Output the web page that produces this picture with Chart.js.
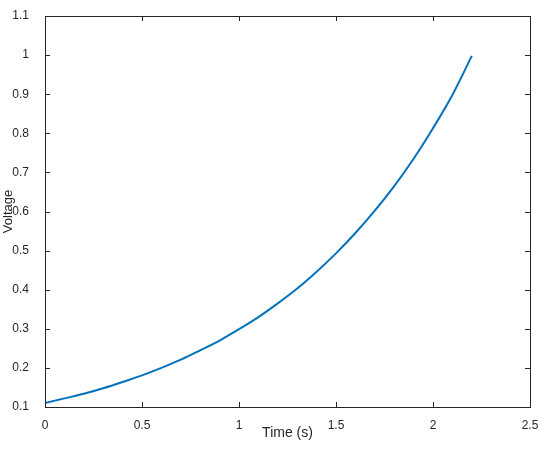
<!DOCTYPE html>
<html>
<head>
<meta charset="utf-8">
<script src="https://cdn.jsdelivr.net/npm/chart.js@4"></script>
<style>
  html, body { margin: 0; padding: 0; background: #fff; }
  #wrap { width: 549px; height: 449px; }
</style>
</head>
<body>
<div id="wrap"><canvas id="chart"></canvas></div>
<script>
// values
const timeS = [0, 0.1, 0.2, 0.3, 0.4, 0.5, 0.6, 0.7, 0.8, 0.9, 1.0, 1.1,
  1.2, 1.3, 1.4, 1.5, 1.6, 1.7, 1.8, 1.9, 2.0, 2.1, 2.2];
const voltage = [0.110, 0.122, 0.134, 0.148, 0.164, 0.181, 0.200, 0.221, 0.245,
  0.270, 0.299, 0.330, 0.365, 0.403, 0.446, 0.493, 0.545, 0.602, 0.665, 0.735,
  0.813, 0.898, 0.998];
const xTicks = [0, 0.5, 1, 1.5, 2, 2.5];
const yTicks = [0.1, 0.2, 0.3, 0.4, 0.5, 0.6, 0.7, 0.8, 0.9, 1, 1.1];

const axisColor = '#262626';
const fontFamily = 'Liberation Sans, Arial, sans-serif';

// box around the plot + ticks pointing inward on all four sides
const boxTicks = {
  id: 'boxTicks',
  afterDraw(chart) {
    const { ctx, chartArea: a, scales } = chart;
    ctx.save();
    ctx.strokeStyle = axisColor;
    ctx.lineWidth = 1;
    ctx.strokeRect(a.left + 0.5, a.top + 0.5, a.right - a.left, a.bottom - a.top);
    ctx.beginPath();
    const len = 5;
    xTicks.forEach(v => {
      const x = Math.round(scales.x.getPixelForValue(v)) + 0.5;
      ctx.moveTo(x, a.bottom); ctx.lineTo(x, a.bottom - len);
      ctx.moveTo(x, a.top); ctx.lineTo(x, a.top + len);
    });
    yTicks.forEach(v => {
      const y = Math.round(scales.y.getPixelForValue(v)) + 0.5;
      ctx.moveTo(a.left, y); ctx.lineTo(a.left + len, y);
      ctx.moveTo(a.right, y); ctx.lineTo(a.right - len, y);
    });
    ctx.stroke();
    ctx.restore();
  }
};

new Chart(document.getElementById('chart'), {
  type: 'scatter',
  data: {
    datasets: [{
      data: timeS.map((t, i) => ({ x: t, y: voltage[i] })),
      showLine: true,
      borderColor: '#0072BD',
      borderWidth: 2,
      pointRadius: 0,
      cubicInterpolationMode: 'monotone'
    }]
  },
  options: {
    responsive: true,
    maintainAspectRatio: false,
    animation: false,
    layout: { padding: { left: 0, top: 16, right: 19, bottom: 0 } },
    plugins: { legend: { display: false }, tooltip: { enabled: false } },
    scales: {
      x: {
        type: 'linear',
        min: 0, max: 2.5,
        afterBuildTicks: s => { s.ticks = xTicks.map(v => ({ value: v })); },
        afterFit: s => { s.height = 42; },
        grid: { display: false },
        border: { display: false },
        ticks: { color: axisColor, font: { family: fontFamily, size: 12 }, padding: 3, maxRotation: 0,
          callback: v => String(v) },
        title: { display: true, text: 'Time (s)', color: axisColor,
          font: { family: fontFamily, size: 14 }, padding: { top: 0, bottom: 7 } }
      },
      y: {
        min: 0.1, max: 1.1,
        afterBuildTicks: s => { s.ticks = yTicks.map(v => ({ value: v })); },
        afterFit: s => { s.width = 45; },
        grid: { display: false },
        border: { display: false },
        ticks: { color: axisColor, font: { family: fontFamily, size: 12 }, padding: 8,
          callback: v => String(v) },
        title: { display: true, text: 'Voltage', color: axisColor,
          font: { family: fontFamily, size: 13 }, padding: { top: 1, bottom: 0 } }
      }
    }
  },
  plugins: [boxTicks]
});
</script>
</body>
</html>
